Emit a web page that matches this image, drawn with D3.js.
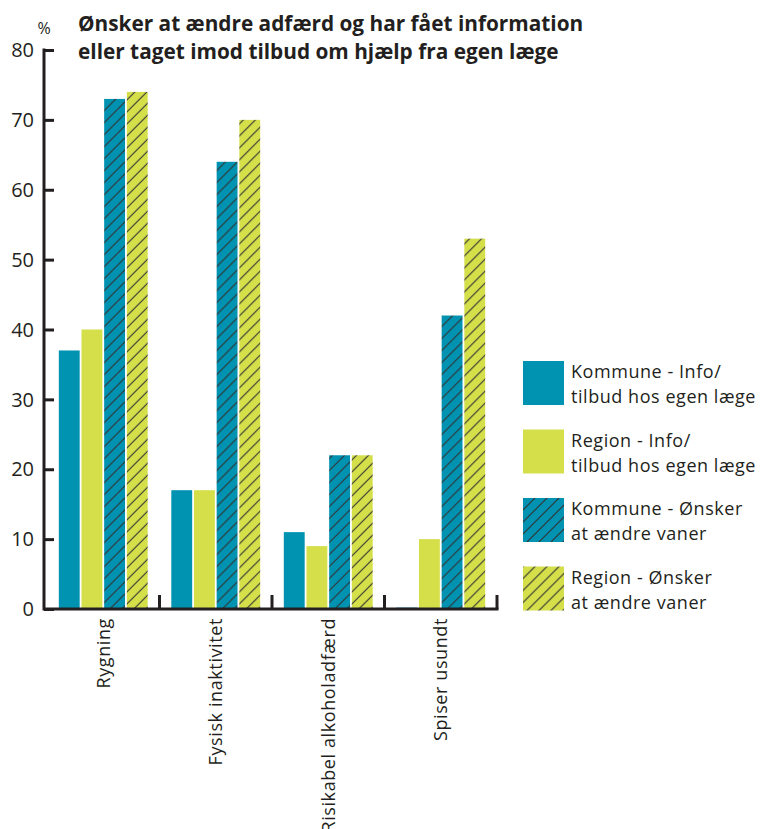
<!DOCTYPE html>
<meta charset="UTF-8">
<html>
<head>
<style>
html, body {
  margin:0;
  padding:0;
  background:#fff;
}
svg text {
  font-family: "Open Sans", "Noto Sans", sans-serif;
  fill:#231f20;
}
.axis path, .axis line {
  stroke:#231f20;
}
</style>
</head>
<body>
<svg width="760" height="829"></svg>
<script src="https://cdn.jsdelivr.net/npm/d3@7"></script>
<script>
// data
var categories = ["Rygning", "Fysisk inaktivitet", "Risikabel alkoholadfærd", "Spiser usundt"];
var seriesNames = ["Kommune - Info/tilbud hos egen læge", "Region - Info/tilbud hos egen læge",
                   "Kommune - Ønsker at ændre vaner", "Region - Ønsker at ændre vaner"];
var kommuneInfo   = [37, 17, 11, 0.2];
var regionInfo    = [40, 17, 9, 10];
var kommuneOnsker = [73, 64, 22, 42];
var regionOnsker  = [74, 70, 22, 53];
var yTicks = [0, 10, 20, 30, 40, 50, 60, 70, 80];
var legendLines = [["Kommune - Info/", "tilbud hos egen læge"],
                   ["Region - Info/", "tilbud hos egen læge"],
                   ["Kommune - Ønsker", "at ændre vaner"],
                   ["Region - Ønsker", "at ændre vaner"]];
var titleLines = ["Ønsker at ændre adfærd og har fået information",
                  "eller taget imod tilbud om hjælp fra egen læge"];

var teal = "#0092b1", lime = "#d4df4a";
var fills = [teal, lime, "url(#hatch-teal)", "url(#hatch-lime)"];

var allSeries = [kommuneInfo, regionInfo, kommuneOnsker, regionOnsker];

var svg = d3.select("svg");

// hatch patterns
var defs = svg.append("defs");
[["hatch-teal", teal], ["hatch-lime", lime]].forEach(function(p) {
  var pat = defs.append("pattern")
      .attr("id", p[0])
      .attr("patternUnits", "userSpaceOnUse")
      .attr("width", 12).attr("height", 12);
  pat.append("rect").attr("width", 12).attr("height", 12).attr("fill", p[1]);
  pat.append("path")
      .attr("d", "M-3,3L3,-3M0,12L12,0M9,15L15,9")
      .attr("stroke", "#333").attr("stroke-width", 1.1);
});

var x0 = 47, x1 = 497;
var y = d3.scaleLinear().domain([0, 80]).range([609, 50]);

var x = d3.scaleBand().domain(categories).range([x0, x1])
    .paddingInner(0.21).paddingOuter(0.105);
var xs = d3.scaleBand().domain(d3.range(4)).range([0, x.bandwidth()]).paddingInner(0.08);

// bars
var groups = svg.append("g").selectAll("g")
  .data(categories)
  .enter().append("g")
    .attr("transform", function(d) { return "translate(" + x(d) + ",0)"; });

groups.selectAll("rect")
  .data(function(d, i) { return allSeries.map(function(s, j) { return {s: j, v: s[i]}; }); })
  .enter().append("rect")
    .attr("x", function(d) { return xs(d.s); })
    .attr("width", xs.bandwidth())
    .attr("y", function(d) { return y(d.v); })
    .attr("height", function(d) { return y(0) - y(d.v); })
    .attr("fill", function(d) { return fills[d.s]; });

// y axis
var yAxis = d3.axisRight(y).tickValues(yTicks).tickSize(10).tickFormat("");
var yg = svg.append("g").attr("class", "axis").attr("transform", "translate(44,0)").call(yAxis);
yg.select(".domain").remove();
yg.selectAll("line").attr("stroke-width", 3);
svg.append("line")
    .attr("x1", 44).attr("x2", 44).attr("y1", y(80) - 1.5).attr("y2", y(0) + 1.5)
    .attr("stroke", "#231f20").attr("stroke-width", 3);

svg.append("g").selectAll("text")
  .data(yTicks)
  .enter().append("text")
    .attr("x", 34).attr("y", function(d) { return y(d); })
    .attr("dy", "0.36em")
    .attr("text-anchor", "end")
    .style("font-size", "20px")
    .text(function(d) { return d; });

svg.append("text")
    .attr("x", 44).attr("y", 34)
    .attr("text-anchor", "middle")
    .style("font-size", "16px")
    .text("%");

// x axis baseline and separators
svg.append("line")
    .attr("x1", 44).attr("x2", x1 + 1.5).attr("y1", y(0)).attr("y2", y(0))
    .attr("stroke", "#231f20").attr("stroke-width", 3);
var step = x.step();
svg.append("g").selectAll("line")
  .data(d3.range(1, categories.length + 1))
  .enter().append("line")
    .attr("x1", function(i) { return x0 + step * i; })
    .attr("x2", function(i) { return x0 + step * i; })
    .attr("y1", y(0)).attr("y2", y(0) - 14)
    .attr("stroke", "#231f20").attr("stroke-width", 3);

// category labels
svg.append("g").selectAll("text")
  .data(categories)
  .enter().append("text")
    .attr("transform", function(d) {
      return "translate(" + (x(d) + x.bandwidth() / 2 + 6.5) + "," + 618 + ") rotate(-90)";
    })
    .attr("text-anchor", "end")
    .style("font-size", "18px")
    .style("letter-spacing", "0.6px")
    .text(function(d) { return d; });

// title
svg.append("g").selectAll("text")
  .data(titleLines)
  .enter().append("text")
    .attr("x", 78).attr("y", function(d, i) { return 31 + i * 28; })
    .style("font-size", "20.8px")
    .style("font-weight", "bold")
    .text(function(d) { return d; });

// legend
var leg = svg.append("g").selectAll("g")
  .data(legendLines)
  .enter().append("g")
    .attr("transform", function(d, i) { return "translate(523," + (361 + i * 68.5) + ")"; });
leg.append("rect")
    .attr("width", 41).attr("height", 44)
    .attr("fill", function(d, i) { return fills[i]; });
leg.selectAll("text")
  .data(function(d) { return d; })
  .enter().append("text")
    .attr("x", 48).attr("y", function(d, i) { return 17 + i * 25; })
    .style("font-size", "18px")
    .style("letter-spacing", "0.55px")
    .text(function(d) { return d; });
</script>
</body>
</html>
